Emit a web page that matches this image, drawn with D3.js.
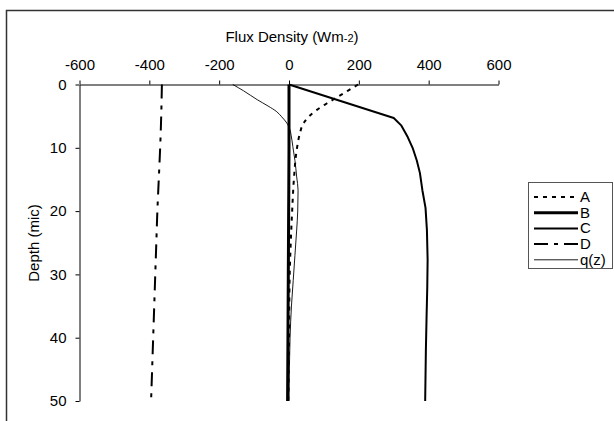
<!DOCTYPE html>
<html>
<head>
<meta charset="utf-8">
<script src="https://cdn.jsdelivr.net/npm/d3@7"></script>
<style>
  body { margin: 0; background: #fff; }
  text { font-family: "Liberation Sans", Arial, sans-serif; fill: #000; }
</style>
</head>
<body>
<div id="chart"></div>
<script>
// depth (mic) / flux density (W m-2) pairs
var depthA = [0, 1, 2, 3, 4, 5, 6, 8, 10, 15, 20, 25, 30, 40, 50];
var fluxA  = [198, 168, 138, 108, 80, 58, 43, 30, 23, 14, 9, 5, 2, 0, -2];

var depthB = [0, 10, 20, 30, 40, 50];
var fluxB  = [0, 0, -1, -2, -3, -4];

var depthC = [0, 5.3, 6.5, 8.3, 10, 12, 14, 16.7, 19.5, 23, 27.7, 32, 36.7, 42, 50];
var fluxC  = [0, 300, 322, 340, 354, 366, 375, 382, 391, 395, 397, 396, 394, 392, 390];

var depthD = [0, 5, 10, 15, 20, 25, 30, 35, 40, 45, 50];
var fluxD  = [-364, -366, -369, -373, -377, -380, -383, -386, -389, -392, -395];

var depthQ = [0, 1, 2.4, 3.4, 4.3, 5.1, 6.1, 7, 8, 9.8, 12, 14.6, 16.7, 20, 23, 27, 31, 35, 40, 45, 50];
var fluxQ  = [-161, -130, -91, -60, -35, -21, -6, 2, 6, 11, 17, 22, 26, 25, 22, 17, 12, 7, 3, 1, 0];

var seriesNames = ["A", "B", "C", "D", "q(z)"];
var xTicks = [-600, -400, -200, 0, 200, 400, 600];
var yTicks = [0, 10, 20, 30, 40, 50];

var W = 614, H = 421;
var svg = d3.select("#chart").append("svg")
    .attr("width", W)
    .attr("height", H);

// outer chart frame (only left and top visible)
svg.append("path")
    .attr("d", "M6.5," + H + "V10.5H" + W)
    .attr("fill", "none")
    .attr("stroke", "#333")
    .attr("stroke-width", 1.5);

var x = d3.scaleLinear().domain([-600, 600]).range([79.5, 498.5]);
var y = d3.scaleLinear().domain([0, 50]).range([84.5, 401]);

var fmt = function(d) { return String(d); };

// x axis on top, ticks pointing up
var xAxis = svg.append("g")
    .attr("transform", "translate(0," + y(0) + ")")
    .call(d3.axisTop(x).tickValues(xTicks).tickFormat(fmt)
      .tickSize(4).tickPadding(11).tickSizeOuter(0));

var yAxis = svg.append("g")
    .attr("transform", "translate(" + x(-600) + ",0)")
    .call(d3.axisLeft(y).tickValues(yTicks).tickFormat(fmt)
      .tickSize(4).tickPadding(9).tickSizeOuter(0));

[xAxis, yAxis].forEach(function(g) {
  g.select(".domain").attr("stroke", "#000");
  g.selectAll(".tick line").attr("stroke", "#000");
  g.selectAll(".tick text")
    .style("font-family", "Liberation Sans, Arial, sans-serif")
    .style("font-size", "15px")
    .attr("fill", "#000");
});

// axis titles
var xt = svg.append("text")
    .attr("x", 292)
    .attr("y", 42)
    .attr("text-anchor", "middle")
    .style("font-size", "15px");
xt.append("tspan").text("Flux Density (Wm");
xt.append("tspan").style("font-size", "11px").text("-2");
xt.append("tspan").text(")");

svg.append("text")
    .attr("transform", "translate(39,243) rotate(-90)")
    .attr("text-anchor", "middle")
    .style("font-size", "15px")
    .text("Depth (mic)");

var styles = {
  "A":    { w: 2,   dash: "4,5" },
  "B":    { w: 3,   dash: null },
  "C":    { w: 2,   dash: null },
  "D":    { w: 2,   dash: "14,7,4,7" },
  "q(z)": { w: 0.9, dash: null }
};

var series = [
  { name: "A", d: depthA, v: fluxA },
  { name: "B", d: depthB, v: fluxB },
  { name: "C", d: depthC, v: fluxC },
  { name: "D", d: depthD, v: fluxD },
  { name: "q(z)", d: depthQ, v: fluxQ }
];

var line = d3.line()
    .x(function(p) { return x(p[1]); })
    .y(function(p) { return y(p[0]); });

series.forEach(function(s) {
  var pts = s.d.map(function(dd, i) { return [dd, s.v[i]]; });
  var st = styles[s.name];
  line.curve(s.name === "C" ? d3.curveLinear : d3.curveMonotoneY);
  svg.append("path")
      .attr("d", line(pts))
      .attr("fill", "none")
      .attr("stroke", "#000")
      .attr("stroke-width", st.w)
      .attr("stroke-dasharray", st.dash)
      .attr("stroke-linejoin", "round");
});

// legend
var lg = svg.append("g");
lg.append("rect")
    .attr("x", 528.5).attr("y", 182.5)
    .attr("width", 84).attr("height", 86)
    .attr("fill", "#fff")
    .attr("stroke", "#555")
    .attr("stroke-width", 1);

seriesNames.forEach(function(n, i) {
  var yy = 197 + i * 15.7;
  var st = styles[n];
  lg.append("line")
      .attr("x1", 534).attr("x2", 578)
      .attr("y1", yy).attr("y2", yy)
      .attr("stroke", "#000")
      .attr("stroke-width", st.w)
      .attr("stroke-dasharray", n === "D" ? "14,6,4,6" : st.dash);
  lg.append("text")
      .attr("x", 580).attr("y", yy + 5)
      .style("font-size", "15px")
      .text(n);
});
</script>
</body>
</html>
